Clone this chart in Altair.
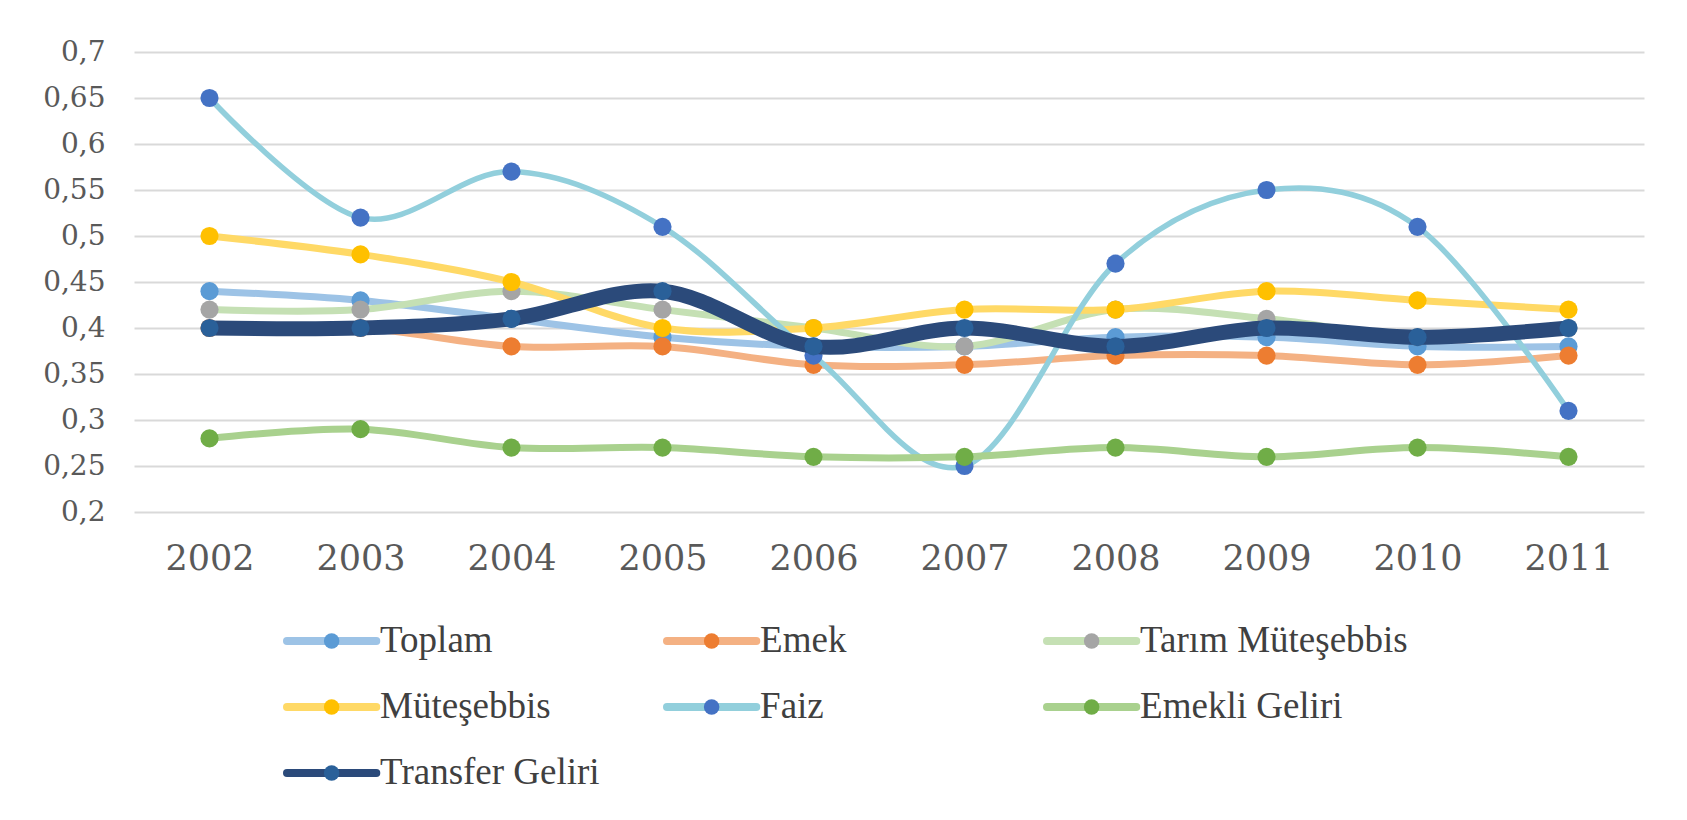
import altair as alt
import pandas as pd

years = ["2002", "2003", "2004", "2005", "2006", "2007", "2008", "2009", "2010", "2011"]
series = ["Toplam", "Emek", "Tarım Müteşebbis", "Müteşebbis", "Faiz", "Emekli Geliri", "Transfer Geliri"]

toplam = [0.44, 0.43, 0.41, 0.39, 0.38, 0.38, 0.39, 0.39, 0.38, 0.38]
emek = [0.40, 0.40, 0.38, 0.38, 0.36, 0.36, 0.37, 0.37, 0.36, 0.37]
tarim = [0.42, 0.42, 0.44, 0.42, 0.40, 0.38, 0.42, 0.41, 0.39, 0.40]
mutesebbis = [0.50, 0.48, 0.45, 0.40, 0.40, 0.42, 0.42, 0.44, 0.43, 0.42]
faiz = [0.65, 0.52, 0.57, 0.51, 0.37, 0.25, 0.47, 0.55, 0.51, 0.31]
emekli = [0.28, 0.29, 0.27, 0.27, 0.26, 0.26, 0.27, 0.26, 0.27, 0.26]
transfer = [0.40, 0.40, 0.41, 0.44, 0.38, 0.40, 0.38, 0.40, 0.39, 0.40]

y_ticks = [0.2, 0.25, 0.3, 0.35, 0.4, 0.45, 0.5, 0.55, 0.6, 0.65, 0.7]

line_colors = ["#9DC3E6", "#F4B183", "#C5E0B4", "#FFD966", "#92CFDC", "#A9D18E", "#2B4A7A"]
point_colors = ["#5B9BD5", "#ED7D31", "#A5A5A5", "#FFC000", "#4472C4", "#70AD47", "#2A6099"]
line_widths = [7, 7, 7, 7, 5.5, 7, 15]

values = [toplam, emek, tarim, mutesebbis, faiz, emekli, transfer]
rows = []
for s, vals in zip(series, values):
    for yr, v in zip(years, vals):
        rows.append({"seri": s, "yil": yr, "deger": v})
df = pd.DataFrame(rows)

AXIS_FONT = "DejaVu Serif"
TEXT_COLOR = "#595959"

x_enc = alt.X(
    "yil:N", sort=years, title=None,
    scale=alt.Scale(type="point", padding=0.5),
    axis=alt.Axis(domain=False, ticks=False, grid=False, labelAngle=0,
                  labelFont=AXIS_FONT, labelFontSize=35, labelColor=TEXT_COLOR,
                  labelPadding=46, labelBaseline="middle",
                  minExtent=60, maxExtent=60),
)
y_enc = alt.Y(
    "deger:Q", title=None,
    scale=alt.Scale(domain=[0.2, 0.7], nice=False, zero=False),
    axis=alt.Axis(values=y_ticks, domain=False, ticks=False,
                  gridColor="#D9D9D9", gridWidth=2,
                  labelExpr="replace(format(datum.value, '.2~f'), '.', ',')",
                  labelFont=AXIS_FONT, labelFontSize=28, labelColor=TEXT_COLOR,
                  labelPadding=29, minExtent=121, maxExtent=121),
)

layers = []
for s, lc, pc, w in zip(series, line_colors, point_colors, line_widths):
    base = alt.Chart(df).transform_filter(alt.datum.seri == s)
    layers.append(base.mark_line(interpolate="cardinal", color=lc, strokeWidth=w,
                                 strokeCap="round").encode(x=x_enc, y=y_enc))
    layers.append(base.mark_circle(color=pc, opacity=1, size=330).encode(x=x_enc, y=y_enc))

main = alt.layer(*layers).properties(width=1510, height=460)

# legend
leg_df = pd.DataFrame({"seri": series, "sira": list(range(len(series)))})
leg_base = alt.Chart(leg_df).transform_calculate(
    col="datum.sira % 3",
    row="floor(datum.sira / 3)",
).transform_calculate(
    col2="datum.col + 0.235",
    dot="datum.col + 0.1175",
    tx="datum.col + 0.245",
)
lx_scale = alt.Scale(domain=[-0.4026, 3.5711], nice=False, zero=False)
ly = alt.Y("row:Q", scale=alt.Scale(domain=[-0.5, 2.5], nice=False, zero=False, reverse=True),
           axis=alt.Axis(labels=False, ticks=False, domain=False, grid=False, title=None,
                         minExtent=121, maxExtent=121))

leg_rule = leg_base.mark_rule(strokeCap="round").encode(
    x=alt.X("col:Q", scale=lx_scale, axis=None),
    x2="col2:Q",
    y=ly,
    stroke=alt.Stroke("seri:N", scale=alt.Scale(domain=series, range=line_colors), legend=None),
    strokeWidth=alt.StrokeWidth("seri:N", scale=alt.Scale(domain=series, range=[8, 8, 8, 8, 8, 8, 14]), legend=None),
)
leg_dot = leg_base.mark_circle(opacity=1, size=240).encode(
    x=alt.X("dot:Q", scale=lx_scale, axis=None),
    y=ly,
    color=alt.Color("seri:N", scale=alt.Scale(domain=series, range=point_colors), legend=None),
)
leg_text = leg_base.mark_text(align="left", baseline="middle", font="Liberation Serif",
                              fontSize=37, color="#404040").encode(
    x=alt.X("tx:Q", scale=lx_scale, axis=None),
    y=ly,
    text="seri:N",
)
legend = alt.layer(leg_rule, leg_dot, leg_text).resolve_scale(
    color="independent", stroke="independent"
).properties(width=1510, height=198)

chart = alt.vconcat(main, legend, spacing=32).properties(
    padding={"left": 5, "top": 30, "right": 5, "bottom": 5},
    background="white",
).configure_view(stroke=None)

chart.save("out.html", embed_options={"renderer": "svg", "actions": False})
